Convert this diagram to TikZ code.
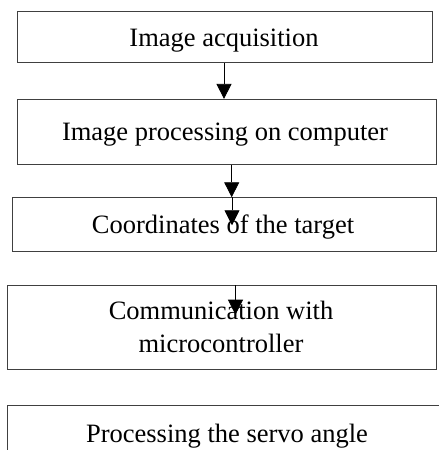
\documentclass[tikz,border=0pt]{standalone}
\usepackage{fontspec}
\setmainfont{Liberation Serif}
\usetikzlibrary{arrows.meta}
\begin{document}
\begin{tikzpicture}[x=1pt,y=-1pt,
  box/.style={draw=black!75,line width=0.9pt,inner sep=0pt},
  txt/.style={inner sep=0pt,anchor=base,align=center,
    font=\fontsize{26.5}{33.3}\selectfont},
  arr/.style={line width=0.8pt,-{Triangle[width=15pt,length=15pt]}}]
\useasboundingbox (0,0) rectangle (439,450);
\clip (0,0) rectangle (439,450);
\node[box,minimum width=415.4pt,minimum height=51pt] (b1) at (225,37.2) {};
\node[box,minimum width=419.4pt,minimum height=64.7pt] (b2) at (227,131.7) {};
\node[box,minimum width=424.4pt,minimum height=54pt] (b3) at (224.5,224.7) {};
\node[box,minimum width=429.4pt,minimum height=83.3pt] (b4) at (222,327.3) {};
\node[box,minimum width=439.4pt,minimum height=55.4pt] (b5) at (227,433) {};
\node[txt] (l1) at (224,46) {Image acquisition};
\node[txt] (l2) at (225,140.7) {Image processing on computer};
\node[txt] (l3) at (223,233.5) {Coordinates of the target};
\node[txt] (l4) at (221,352.5) {Communication with\\microcontroller};
\node[txt] (l5) at (227,442.5) {Processing the servo angle};
\coordinate (t3) at ([xshift=7.5pt,yshift=-28pt]b3.north);
\coordinate (t4) at ([xshift=13.5pt,yshift=-29.5pt]b4.north);
\draw[arr] ([xshift=-1pt]b1.south) -- ([xshift=-1pt]b1.south |- b2.north);
\draw[arr] ([xshift=4.7pt]b2.south) -- ([xshift=4.7pt]b2.south |- b3.north);
\draw[arr] (t3 |- b3.north) -- (t3);
\draw[arr] (t4 |- b4.north) -- (t4);
\end{tikzpicture}
\end{document}
